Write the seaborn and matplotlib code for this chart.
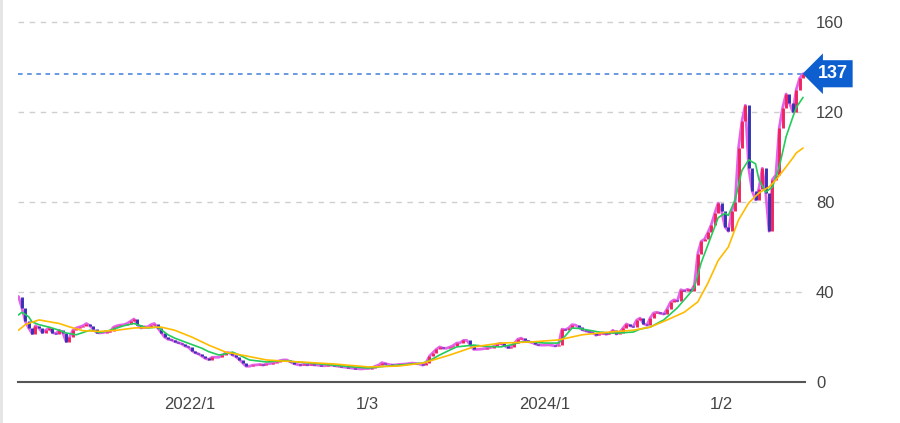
import matplotlib
matplotlib.use("Agg")
import numpy as np
import pandas as pd
import matplotlib.pyplot as plt
import matplotlib.transforms as mtransforms
from matplotlib.lines import Line2D
import seaborn as sns

# weekly closes
START = "2021-01-15"
close = [
    38, 33, 27, 24, 21.5, 25, 24, 22, 23, 24,
    22, 21.5, 23, 22, 18, 19.8, 23, 24, 24.5, 25,
    26, 25, 23.5, 22, 21.8, 22, 22.3, 22.5, 24.4, 25,
    25.3, 25.5, 26, 27, 28, 25.5, 24, 24.5, 24.5, 25.5,
    26, 24, 22, 20, 19, 18.7, 18, 17.5, 17, 16,
    15.5, 14, 13, 12.5, 11.5, 10.5, 10, 11, 11, 11,
    11.8, 13, 13, 12, 11.3, 10, 8.5, 7, 7, 7.5,
    7.6, 7.8, 7.5, 8, 8.2, 8.4, 9, 9.5, 9.8, 9.8,
    9, 8.2, 7.8, 7.5, 7.8, 7.6, 7.8, 7.6, 7.5, 7.3,
    7.2, 7.4, 7.5, 7.3, 7, 6.8, 6.6, 6.4, 6.2, 6,
    5.9, 5.8, 6, 6, 6.2, 7, 7.5, 8.6, 8.2, 7.8,
    7.5, 7.6, 7.8, 7.9, 8, 8.2, 8.4, 8.2, 8, 7.5,
    8.5, 11.5, 13, 14.5, 15.6, 15, 15, 15.5, 16.2, 17.3,
    17.4, 18.5, 18.5, 16.5, 14.5, 14.5, 14.6, 14.8, 15, 15.3,
    15.8, 16.8, 17.2, 16.2, 15.3, 15.5, 17.2, 19, 19.5, 18.5,
    18, 17.6, 17, 16.5, 16.4, 16.4, 16.5, 16.3, 16, 16.5,
    23.5, 23.2, 24, 25.5, 25.3, 24.3, 23.2, 22.7, 22.3, 22,
    20.8, 21.3, 21.8, 21.2, 21.6, 23, 21.3, 22, 24, 25.8,
    25, 24.6, 27.5, 28.4, 26, 25.2, 28.5, 30.7, 31, 30.5,
    30.2, 32.5, 35.5, 36.5, 36, 41, 40.5, 41.2, 40.5, 43,
    57, 62.5, 63.5, 66.5, 70, 75, 79.5, 76, 69, 67,
    76, 80, 104, 116, 123, 95, 85, 81, 86, 95,
    84, 67, 90, 92, 113, 122, 128, 124, 120, 130,
    135, 137,
]

# medium moving average (green): week index -> value
mid_weeks = [0, 1, 3, 4, 6, 9, 12, 14, 17, 21, 24, 27, 29, 31, 34, 36, 38, 41, 44, 46,
             49, 54, 56, 59, 61, 63, 65, 68, 73, 78, 82, 89, 96, 103, 108, 112, 119, 121, 124, 127,
             129, 134, 138, 142, 145, 148, 151, 155, 159, 161, 163, 165, 168, 171, 174, 177, 181, 183, 186, 190,
             194, 198, 199, 201, 204, 206, 208, 209, 211, 213, 215, 217, 218, 220, 222, 224, 226, 228, 229, 231]
mid_ma = [29.8, 31, 29, 26.7, 25.5, 24.4, 23, 21.8, 21, 23, 22, 23, 24, 25, 26, 25, 24, 24.4, 21, 19.5,
          17.8, 15, 13.5, 12, 12.5, 13.3, 12, 9.8, 8.9, 9.5, 8.9, 8, 7, 6.2, 7, 7.5, 8.4, 9.5, 12, 14.2,
          15.6, 16.4, 15.8, 15.6, 16.5, 17.8, 17.8, 17.3, 17.3, 20.5, 24, 23.8, 23, 22.2, 21.8, 21.8, 22.2, 23.5, 24.4, 27.6,
          33, 40, 42, 53, 65, 73, 75, 74, 81, 94, 98.7, 97, 90, 84.4, 86.7, 95.6, 109, 117.8, 122, 126.5]

# long moving average (orange)
long_weeks = [0, 2, 6, 12, 15, 19, 24, 29, 34, 42, 46, 51, 56, 61, 67, 73, 78, 83, 93, 103,
              112, 119, 127, 134, 142, 151, 159, 166, 174, 181, 186, 191, 196, 200, 203, 206, 209, 212, 215, 218,
              221, 223, 226, 228, 229, 231]
long_ma = [23, 25.5, 27.6, 26, 24.5, 22.8, 22.5, 23, 24, 24.4, 23, 20, 16.4, 13.3, 11.6, 9.8, 9.3, 8.9, 8, 6.7,
           7.1, 8.4, 12, 15.6, 17.3, 17.8, 18.7, 21, 22.2, 23, 24.4, 27.6, 31, 35.6, 44, 54, 60, 72, 79.6, 84,
           86.7, 89.8, 95.6, 99.6, 101.8, 104]

tick_dates = ["2022-01-03", "2023-01-03", "2024-01-04", "2025-01-02"]
tick_labels = ["2022/1", "1/3", "2024/1", "1/2"]
y_ticks = [0, 40, 80, 120, 160]

UP = "#f0245e"
DOWN = "#3434b4"
SHORT_C = "#e462e8"
MID_C = "#22cc5a"
LONG_C = "#ffbb00"
BADGE = "#0d5fcf"

sns.set_style("white")
plt.rcParams["font.family"] = ["Liberation Sans", "DejaVu Sans"]

dates = pd.date_range(START, periods=len(close), freq="7D")
c = np.array(close, dtype=float)
o = np.r_[c[0], c[:-1]]
up = c >= o

fig = plt.figure(figsize=(9, 4.23), dpi=100)
ax = fig.add_axes([18 / 900, 1 - 382 / 423, 787 / 900, 378 / 423])

for v in y_ticks[1:]:
    ax.axhline(v, color="#cfcfcf", lw=1, ls=(0, (4, 4)), zorder=0)

sns.lineplot(x=dates, y=c, color=SHORT_C, lw=2.0, ax=ax, zorder=2)
ax.vlines(dates[up], o[up], c[up], color=UP, lw=2.1, zorder=3)
ax.vlines(dates[~up], o[~up], c[~up], color=DOWN, lw=2.1, zorder=3)
sns.lineplot(x=dates[mid_weeks], y=mid_ma, color=MID_C, lw=1.2, ax=ax, zorder=4)
sns.lineplot(x=dates[long_weeks], y=long_ma, color=LONG_C, lw=1.2, ax=ax, zorder=4)

last = close[-1]
ax.axhline(last, color="#3f7ddc", lw=1.1, ls=(0, (3, 3)), zorder=1)
trans = mtransforms.blended_transform_factory(ax.transAxes, ax.transData)
ax.text(1.016, last, f"{last:.0f}", transform=trans, ha="left", va="center",
        color="white", fontsize=13, fontweight="bold", zorder=6, clip_on=False,
        bbox=dict(boxstyle="larrow,pad=0.28", fc=BADGE, ec="none"))

ax.set_xlim(dates[0] - pd.Timedelta(days=1), dates[-1] + pd.Timedelta(days=4))
ax.set_ylim(0, 168)
ax.set_xticks(pd.to_datetime(tick_dates))
ax.set_xticklabels(tick_labels)
ax.set_yticks(y_ticks)
ax.yaxis.tick_right()
ax.tick_params(axis="y", length=0, pad=8, labelsize=12, labelcolor="#444444")
ax.tick_params(axis="x", length=0, pad=11, labelsize=12, labelcolor="#444444")
ax.set_xlabel("")
ax.set_ylabel("")

for side in ["top", "left", "right"]:
    ax.spines[side].set_visible(False)
ax.spines["bottom"].set_color("#555555")
ax.spines["bottom"].set_linewidth(1.5)

fig.add_artist(Line2D([0.0015, 0.0015], [0, 1], color="#e3e3e3", lw=2))

fig.savefig("out.png", dpi=100)
